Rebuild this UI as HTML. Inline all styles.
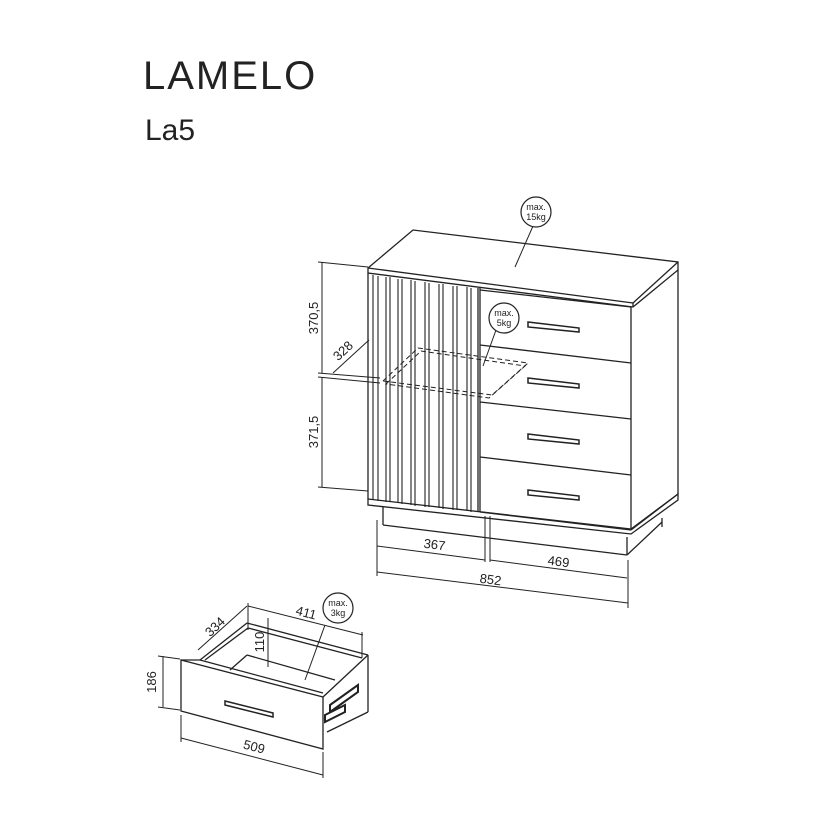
<!DOCTYPE html>
<html><head><meta charset="utf-8"><style>body{margin:0;background:#fff}svg{display:block}text{font-family:"Liberation Sans",sans-serif;fill:#222}</style></head><body>
<svg width="830" height="830" viewBox="0 0 830 830" xmlns="http://www.w3.org/2000/svg">
<text x="143" y="89" font-size="40" letter-spacing="2">LAMELO</text>
<text x="145" y="140" font-size="30">La5</text>
<g fill="none" stroke="#222" stroke-width="1.3">
<polygon points="368,268 413,230 678,262 678,270 633,307 368,273" fill="#fff"/>
<line x1="368" y1="268" x2="633" y2="303"/><line x1="633" y1="303" x2="678" y2="262"/><line x1="633" y1="303" x2="633" y2="307"/>
<line x1="678" y1="270" x2="678" y2="494"/><line x1="631" y1="307" x2="631" y2="530"/>
<line x1="631" y1="530" x2="678" y2="494"/>
<polygon points="368,499 631,529 678,494 678,500 631,534 368,505"/>
<line x1="383" y1="507" x2="383" y2="525"/><line x1="383" y1="525" x2="627" y2="555"/><line x1="627" y1="537" x2="627" y2="555"/><line x1="627" y1="555" x2="662" y2="522"/><line x1="662" y1="518" x2="662" y2="527"/>
<line x1="368" y1="273" x2="368" y2="499"/>
<line x1="478" y1="288" x2="478" y2="512"/><line x1="480" y1="288" x2="480" y2="512"/>
<g stroke-width="1.1">
<line x1="373" y1="275" x2="373" y2="500"/><line x1="378" y1="276" x2="378" y2="501"/>
<line x1="386" y1="277" x2="386" y2="502"/><line x1="390" y1="277" x2="390" y2="502"/>
<line x1="398" y1="279" x2="398" y2="503"/><line x1="402" y1="279" x2="402" y2="504"/>
<line x1="411" y1="280" x2="411" y2="505"/><line x1="415" y1="281" x2="415" y2="506"/>
<line x1="425" y1="282" x2="425" y2="507"/><line x1="429" y1="283" x2="429" y2="507"/>
<line x1="439" y1="284" x2="439" y2="508"/><line x1="443" y1="284" x2="443" y2="509"/>
<line x1="453" y1="286" x2="453" y2="510"/><line x1="457" y1="286" x2="457" y2="510"/>
<line x1="467" y1="287" x2="467" y2="511"/><line x1="471" y1="288" x2="471" y2="512"/>
</g>
<line x1="480" y1="290" x2="631" y2="307"/>
<line x1="480" y1="345" x2="631" y2="363"/>
<line x1="480" y1="402" x2="631" y2="419"/>
<line x1="480" y1="457" x2="631" y2="475"/>
<line x1="480" y1="512" x2="631" y2="530"/>
<g stroke-width="1.5">
<polygon points="528,322 579,328 579,332 528,327"/>
<polygon points="528,378 579,384 579,388 528,383"/>
<polygon points="528,434 579,440 579,444 528,439"/>
<polygon points="528,490 579,496 579,500 528,495"/>
</g>
<g stroke-dasharray="5,3" stroke-width="1">
<polygon points="383,381 418,348 528,363 492,395"/>
<polygon points="386,384 421,351 525,366 489,398"/>
</g>
<g stroke-width="1">
<line x1="318" y1="262" x2="368" y2="267"/><line x1="322" y1="262" x2="322" y2="373"/>
<line x1="318" y1="373" x2="380" y2="378"/><line x1="318" y1="377" x2="380" y2="383"/>
<line x1="322" y1="377" x2="322" y2="487"/><line x1="318" y1="487" x2="368" y2="491"/>
<line x1="333" y1="373" x2="369" y2="340"/>
<line x1="377" y1="520" x2="377" y2="576"/><line x1="377" y1="546" x2="485" y2="560"/>
<line x1="485" y1="516" x2="485" y2="562"/><line x1="490" y1="516" x2="490" y2="562"/>
<line x1="490" y1="560" x2="627" y2="578"/>
<line x1="377" y1="572" x2="628" y2="603"/><line x1="628" y1="560" x2="628" y2="608"/>
<line x1="515" y1="267" x2="533" y2="226"/>
<line x1="483" y1="366" x2="496" y2="330"/>
</g>
<circle cx="536" cy="212" r="15" fill="#fff" stroke-width="1.2"/>
<circle cx="504" cy="318" r="15" fill="#fff" stroke-width="1.2"/>
<polygon points="181,660 323,697 323,749 181,711" fill="#fff"/>
<line x1="181" y1="660" x2="200" y2="660"/>
<line x1="200" y1="660" x2="247" y2="623"/><line x1="247" y1="623" x2="368" y2="655"/><line x1="368" y1="655" x2="323" y2="697"/>
<line x1="205" y1="660" x2="248" y2="628"/><line x1="248" y1="628" x2="362" y2="658"/>
<line x1="230" y1="670" x2="247" y2="655"/><line x1="247" y1="655" x2="335" y2="680"/>
<line x1="200" y1="660" x2="323" y2="693"/>
<line x1="368" y1="655" x2="368" y2="712"/><line x1="368" y1="712" x2="327" y2="732"/>
<polygon points="225,701 273,713 273,717 225,705" stroke-width="1.5"/>
<path d="M330,705 L358,685 L358,692 L330,712Z M325,715 L345,705 L345,712 L325,722Z" stroke-width="2"/>
<g stroke-width="1">
<line x1="163" y1="656" x2="163" y2="707"/><line x1="158" y1="656" x2="180" y2="659"/><line x1="158" y1="707" x2="180" y2="710"/>
<line x1="198" y1="650" x2="247" y2="606"/><line x1="248" y1="603" x2="248" y2="630"/>
<line x1="248" y1="606" x2="363" y2="635"/><line x1="362" y1="632" x2="362" y2="658"/>
<line x1="268" y1="618" x2="268" y2="667"/>
<line x1="181" y1="738" x2="323" y2="775"/><line x1="181" y1="715" x2="181" y2="742"/><line x1="323" y1="752" x2="323" y2="778"/>
<line x1="305" y1="680" x2="325" y2="625"/>
</g>
<circle cx="338" cy="608" r="15" fill="#fff" stroke-width="1.2"/>
</g>
<g font-size="9" text-anchor="middle"><text x="536" y="210">max.</text><text x="536" y="220">15kg</text>
<text x="504" y="316">max.</text><text x="504" y="326">5kg</text>
<text x="338" y="606">max.</text><text x="338" y="616">3kg</text></g>
<g font-size="13" text-anchor="middle">
<text transform="translate(318,318) rotate(-90)">370,5</text>
<text transform="translate(318,432) rotate(-90)">371,5</text>
<text transform="translate(346,354) rotate(-43)">328</text>
<text transform="translate(434,549) rotate(7)">367</text>
<text transform="translate(558,566) rotate(7)">469</text>
<text transform="translate(490,584) rotate(7)">852</text>
<text transform="translate(156,682) rotate(-90)">186</text>
<text transform="translate(218,630) rotate(-43)">334</text>
<text transform="translate(305,617) rotate(15)">411</text>
<text transform="translate(264,642) rotate(-90)">110</text>
<text transform="translate(253,751) rotate(15)">509</text>
</g>
</svg>
</body></html>
